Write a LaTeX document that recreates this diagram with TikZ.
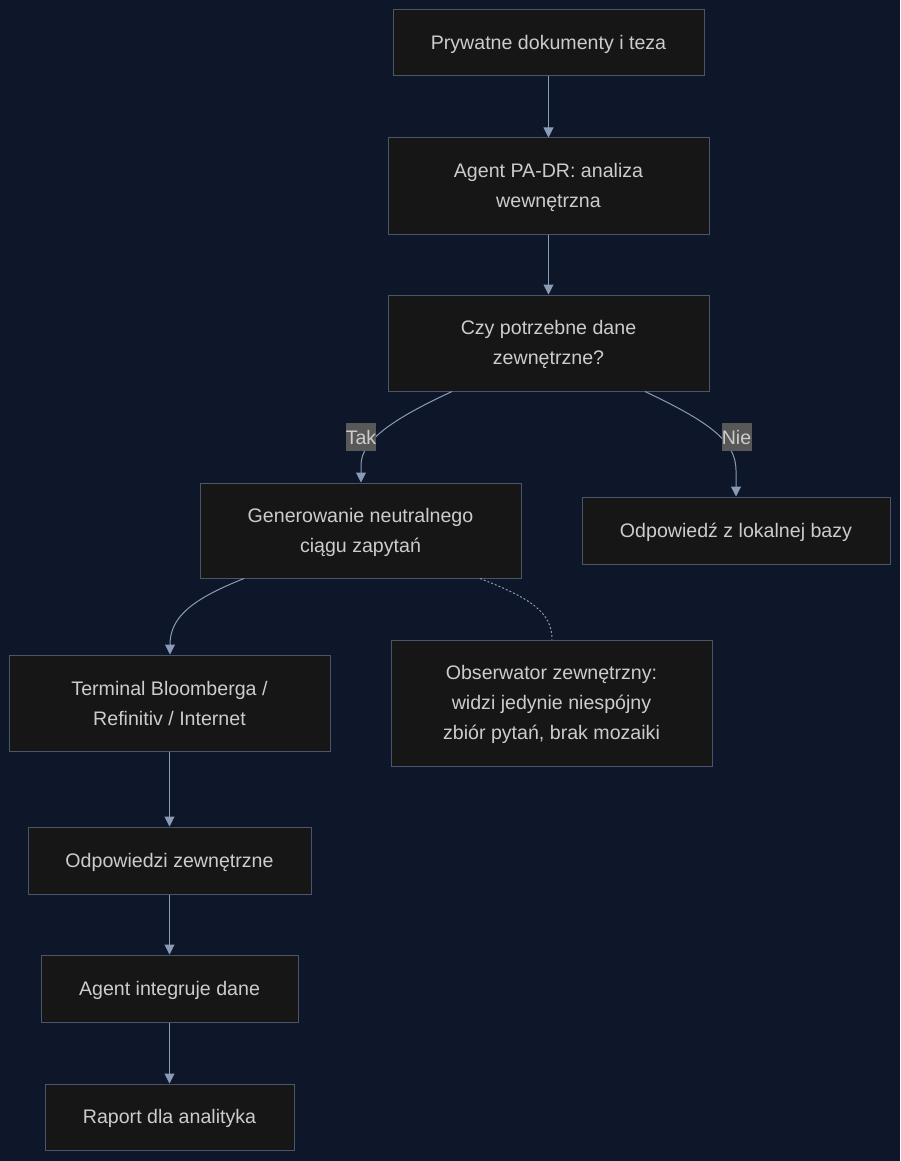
\documentclass[tikz,border=0pt]{standalone}
\usepackage{fontspec}
\setmainfont{Liberation Sans}
\usetikzlibrary{arrows.meta}
\definecolor{bgc}{HTML}{0E1729}
\definecolor{boxfill}{HTML}{161616}
\definecolor{boxline}{HTML}{4A5568}
\definecolor{txt}{HTML}{CCCCCC}
\definecolor{edge}{HTML}{8A9BB6}
\definecolor{lblbg}{HTML}{585858}
\newcommand\topfix{\rule{0pt}{18pt}}
\tikzset{
  x=1pt, y=-1pt,
  box/.style={draw=boxline, fill=boxfill, line width=1pt, text=txt, align=center,
    inner sep=0pt, font=\fontsize{19.6}{30}\selectfont},
  lbl/.style={fill=lblbg, text=txt, inner sep=0pt, minimum width=30pt, minimum height=28pt,
    font=\fontsize{19.6}{24}\selectfont},
  conn/.style={draw=edge, line width=1pt, -{Triangle[width=10pt,length=10pt]}},
  dotconn/.style={draw=edge, line width=1pt, dash pattern=on 2pt off 2pt},
}
\begin{document}
\begin{tikzpicture}
\fill[bgc] (0,0) rectangle (900,1161);
\useasboundingbox (0,0) rectangle (900,1161);

\node[box, minimum width=311pt, minimum height=66pt] (n1) at (548.5,43) {\topfix Prywatne dokumenty i teza};
\node[box, minimum width=321pt, minimum height=96pt] (n2) at (548.5,186) {\topfix Agent PA-DR: analiza\\wewnętrzna};
\node[box, minimum width=321pt, minimum height=96pt] (n3) at (548.5,343) {\topfix Czy potrzebne dane\\zewnętrzne?};
\node[box, minimum width=321pt, minimum height=95pt] (n4) at (360.5,530.5) {\topfix Generowanie neutralnego\\ciągu zapytań};
\node[box, minimum width=308pt, minimum height=67pt] (n5) at (736,530.5) {\topfix Odpowiedź z lokalnej bazy};
\node[box, minimum width=321pt, minimum height=96pt] (n6) at (169.5,703) {Terminal Bloomberga /\\Refinitiv / Internet};
\node[box, minimum width=321pt, minimum height=126pt] (n7) at (551.5,703) {\topfix Obserwator zewnętrzny:\\widzi jedynie niespójny\\zbiór pytań, brak mozaiki};
\node[box, minimum width=283pt, minimum height=67pt] (n8) at (169.5,860.5) {\topfix Odpowiedzi zewnętrzne};
\node[box, minimum width=257pt, minimum height=67pt] (n9) at (169.5,988.5) {\topfix Agent integruje dane};
\node[box, minimum width=249pt, minimum height=66pt] (n10) at (169.5,1117) {\topfix Raport dla analityka};

\coordinate (a3l) at (452,391.5);
\coordinate (a3r) at (645,391.5);
\coordinate (a4l) at (244,578.5);
\coordinate (a4r) at (480,578.5);

\draw[conn] (n1) -- (n2);
\draw[conn] (n2) -- (n3);
\draw[conn] (a3l) .. controls (395,418) and (361,440) .. (361,465) -- (n4.north -| 361,0);
\draw[conn] (a3r) .. controls (705,420) and (736,440) .. (736,470) -- (n5.north);
\draw[conn] (a4l) .. controls (190,600) and (170,618) .. (170,645) -- (n6.north -| 170,0);
\draw[dotconn] (a4r) .. controls (530,598) and (552,612) .. (n7.north -| 552,0);
\draw[conn] (n6) -- (n8);
\draw[conn] (n8) -- (n9);
\draw[conn] (n9) -- (n10);

\node[lbl] (tak) at (361,437) {Tak};
\node[lbl] (nie) at (736.5,437) {Nie};
\end{tikzpicture}
\end{document}
